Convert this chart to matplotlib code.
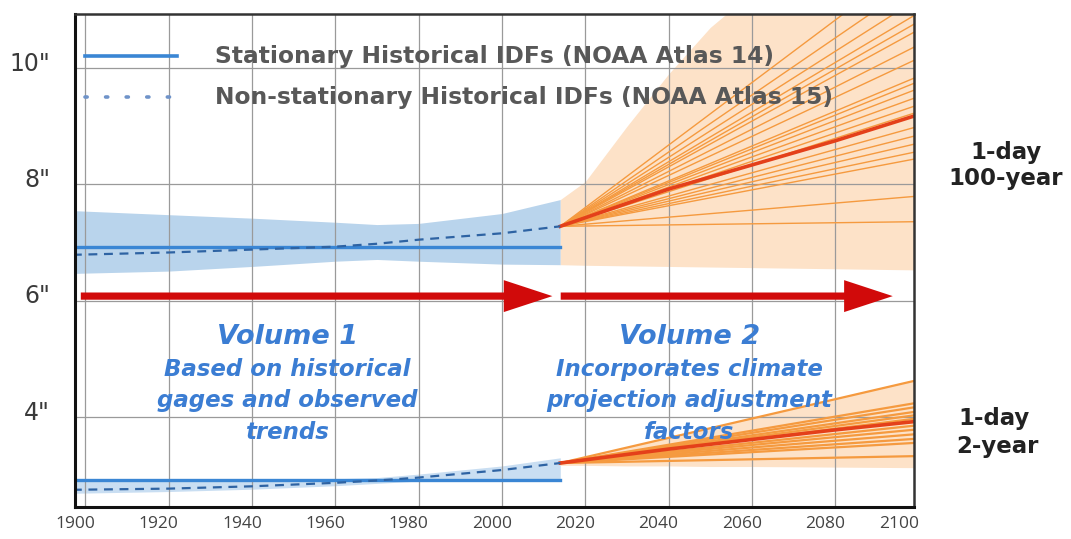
import matplotlib.pyplot as plt
import numpy as np
from matplotlib.transforms import ScaledTranslation

plt.rcParams['font.family'] = ['DejaVu Sans']

# --- historical period (Volume 1) ---
hist_years = [1897, 1920, 1940, 1960, 1970, 1980, 2000, 2014]
stat_100 = [6.93] * len(hist_years)
nonstat_100 = [6.79, 6.83, 6.88, 6.93, 6.98, 7.05, 7.16, 7.28]
band_100_hi = [7.55, 7.48, 7.42, 7.35, 7.31, 7.33, 7.50, 7.74]
band_100_lo = [6.47, 6.51, 6.59, 6.68, 6.71, 6.68, 6.63, 6.62]

stat_2 = [2.92] * len(hist_years)
nonstat_2 = [2.75, 2.77, 2.81, 2.87, 2.91, 2.96, 3.09, 3.21]
band_2_hi = [2.93, 2.93, 2.93, 2.94, 2.96, 3.02, 3.16, 3.30]
band_2_lo = [2.69, 2.72, 2.76, 2.82, 2.86, 2.90, 2.91, 2.91]

# --- projections (Volume 2) ---
proj_years = [2014, 2100]
proj_100_end = [11.9, 11.5, 11.2, 10.95, 10.8, 10.66, 10.40, 10.17, 9.86, 9.77,
                9.65, 9.51, 9.37, 9.25, 9.0, 8.85, 8.71, 8.57, 8.45, 7.80, 7.36]
proj_2_end = [4.64, 4.25, 4.18, 4.10, 4.04, 3.98, 3.86, 3.79, 3.71, 3.63, 3.56, 3.33]

red_years = [2014, 2040, 2080, 2100]
red_100 = [7.28, 7.92, 8.75, 9.20]
red_2 = [3.21, 3.45, 3.78, 3.93]

oband_years = [2014, 2020, 2030, 2040, 2050, 2060, 2100]
oband_100_hi = [7.74, 8.05, 9.0, 9.9, 10.7, 11.3, 12.5]
oband_100_lo = [6.62, 6.61, 6.60, 6.59, 6.58, 6.57, 6.53]
oband_2_hi = [3.21, 3.31, 3.48, 3.65, 3.82, 3.99, 4.66]
oband_2_lo = [3.17, 3.17, 3.16, 3.16, 3.15, 3.15, 3.13]

year_ticks = [1900, 1920, 1940, 1960, 1980, 2000, 2020, 2040, 2060, 2080, 2100]
y_ticks = [4, 6, 8, 10]
y_labels = ['4"', '6"', '8"', '10"']

legend_labels = ['Stationary Historical IDFs (NOAA Atlas 14)',
                 'Non-stationary Historical IDFs (NOAA Atlas 15)']
vol1_lines = ['Volume 1', 'Based on historical', 'gages and observed', 'trends']
vol2_lines = ['Volume 2', 'Incorporates climate', 'projection adjustment', 'factors']

blue = '#3a86d4'
dblue = '#2e63a3'
txtblue = '#3b7dd3'
orange = '#f59a3f'
red = '#e4401a'
arrow_red = '#d10a0a'

fig = plt.figure(figsize=(10.71, 5.39), dpi=100)
ax = fig.add_axes([0.070, 0.060, 0.783, 0.914])
ax.set_xlim(1897.5, 2098.8)
ax.set_ylim(2.46, 10.93)

# grid
for yr in year_ticks[:-1]:
    ax.axvline(yr, color='#9a9a9a', lw=0.9, zorder=1.5)
for v in y_ticks:
    ax.axhline(v, color='#9a9a9a', lw=0.9, zorder=1.5)

# bands
ax.fill_between(hist_years, band_100_lo, band_100_hi, color='#b9d4ec', lw=0, zorder=1)
ax.fill_between(hist_years, band_2_lo, band_2_hi, color='#c9def2', lw=0, zorder=1)
ax.fill_between(oband_years, oband_100_lo, oband_100_hi, color='#fde2c8', lw=0, zorder=1)
ax.fill_between(oband_years, oband_2_lo, oband_2_hi, color='#fde2c8', lw=0, zorder=1)

# projection fans
for end in proj_100_end:
    ax.plot(proj_years, [red_100[0], end], color=orange, lw=1.0, zorder=2)
for end in proj_2_end:
    ax.plot(proj_years, [red_2[0], end], color=orange, lw=1.6, zorder=2)
ax.plot(red_years, red_100, color=red, lw=2.6, zorder=3)
ax.plot(red_years, red_2, color=red, lw=2.6, zorder=3)

# historical lines
ax.plot(hist_years, stat_100, color=blue, lw=2.4, zorder=4)
ax.plot(hist_years, stat_2, color=blue, lw=2.4, zorder=4)
ax.plot(hist_years, nonstat_100, color=dblue, lw=1.6, ls=(0, (4, 3)), zorder=4)
ax.plot(hist_years, nonstat_2, color=dblue, lw=1.6, ls=(0, (4, 3)), zorder=4)

# legend drawn by hand
ax.plot([1900, 1922], [10.2, 10.2], color=blue, lw=2.6, zorder=5)
ax.plot([1900, 1922], [9.5, 9.5], color='#6f93c9', lw=2.6, ls=(0, (0.6, 5.1)),
        dash_capstyle='round', zorder=5)
for yv, lab in zip([10.2, 9.5], legend_labels):
    ax.text(1931.0, yv, lab, fontsize=16.8, fontweight='bold', color='#585858',
            va='center', ha='left', zorder=5)

# volume arrows
for x0, x1 in [(1898.9, 2012.1), (2014.1, 2093.8)]:
    ax.annotate('', xy=(x1, 6.08), xytext=(x0, 6.08),
                arrowprops=dict(arrowstyle='simple,head_length=3.5,head_width=2.3,tail_width=0.52',
                                mutation_scale=10, color=arrow_red, shrinkA=0, shrinkB=0,
                                lw=0),
                zorder=6)

# volume texts
line_y = [5.38, 4.81, 4.29, 3.74]
for xc, lines in [(1948.5, vol1_lines), (2045, vol2_lines)]:
    for i, (yv, s) in enumerate(zip(line_y, lines)):
        ax.text(xc, yv, s, fontsize=19.5 if i == 0 else 16.5, fontweight='bold',
                style='italic', color=txtblue, ha='center', va='center', zorder=6)

# right-side labels
for xp, yp, s in [(1006, 152, '1-day'), (1006, 178, '100-year'),
                  (994, 418, '1-day'), (997, 446, '2-year')]:
    fig.text(xp / 1071, 1 - yp / 539, s, fontsize=16.5, fontweight='bold',
             color='#222222', ha='center', va='center')

# ticks
ax.set_yticks(y_ticks)
ax.set_yticklabels(y_labels, fontsize=17, color='#3a3a3a')
ax.set_xticks(year_ticks[:-1])
ax.set_xticklabels([str(y) for y in year_ticks[:-1]], fontsize=12.5, color='#444444',
                   family='Open Sans')
ax.tick_params(length=0, pad=7)
ax.tick_params(axis='y', pad=18)
off_x = ScaledTranslation(-10 / 100, 0, fig.dpi_scale_trans)
for lab in ax.get_xticklabels():
    lab.set_transform(lab.get_transform() + off_x)
off_y = ScaledTranslation(0, 7 / 100, fig.dpi_scale_trans)
for lab in ax.get_yticklabels():
    lab.set_transform(lab.get_transform() + off_y)
ax.text(year_ticks[-1], 0, str(year_ticks[-1]), fontsize=12.5, color='#444444',
        family='Open Sans', ha='center', va='top',
        transform=ax.get_xaxis_transform() + ScaledTranslation(-19 / 100, -7 / 72, fig.dpi_scale_trans),
        clip_on=False)

for side in ['left', 'bottom']:
    ax.spines[side].set_linewidth(2.2)
    ax.spines[side].set_color('#111111')
for side in ['top', 'right']:
    ax.spines[side].set_linewidth(1.8)
    ax.spines[side].set_color('#333333')
for s in ax.spines.values():
    s.set_zorder(7)

fig.savefig('out.png', dpi=100)
